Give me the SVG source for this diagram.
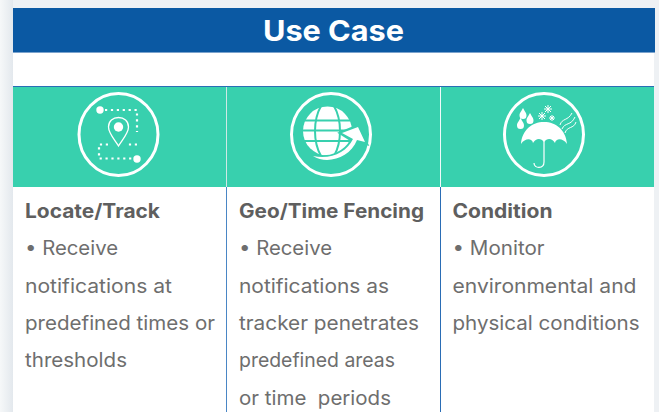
<svg xmlns="http://www.w3.org/2000/svg" width="659" height="412" viewBox="0 0 659 412">
<defs><linearGradient id="sh" x1="0" x2="1" y1="0" y2="0"><stop offset="0" stop-color="#f6f8f9"/><stop offset="1" stop-color="#e3e8ed"/></linearGradient></defs>
<style>
text{font-family:"Inter","Noto Sans",sans-serif}
.b{font-size:19.500px;font-weight:700;fill:#5f5f5f}
.t{font-size:19.500px;fill:#6e6e6e}
.w{fill:none;stroke:#fff}
.r{fill:none;stroke:#fff;stroke-width:3}
.f{fill:#fff}
.d{fill:none;stroke:#fff;stroke-width:2.200;stroke-dasharray:2.200 3.700}
.g{fill:none;stroke:#38d0ae;stroke-width:2}
</style>
<rect width="659" height="412" fill="#eef1f4"/>
<rect x="0" y="0" width="13" height="412" fill="url(#sh)"/>
<rect x="13" y="8" width="641" height="404" fill="#fff"/>
<rect x="13" y="8" width="642" height="44" fill="#0b59a3"/>
<rect x="13" y="52" width="642" height="1" fill="#7ba3cd"/>
<text x="263" y="41" font-size="29" font-weight="700" fill="#fff" textLength="141" lengthAdjust="spacingAndGlyphs">Use Case</text>
<rect x="13" y="86" width="641" height="1" fill="#2a6db5"/>
<rect x="13" y="87" width="641" height="100" fill="#38d0ae"/>
<g id="connectors">
<line x1="226.500" y1="87" x2="226.500" y2="187" stroke="#cfe8e6"/>
<line x1="440.500" y1="87" x2="440.500" y2="187" stroke="#f0fafa"/>
<line x1="226.500" y1="187" x2="226.500" y2="412" stroke="#4a86c5"/>
<line x1="440.500" y1="187" x2="440.500" y2="412" stroke="#2a6db5"/>
</g>
<g id="node-locate">
<ellipse class="r" cx="118.500" cy="134.500" rx="39.500" ry="41"/>
<circle class="f" cx="100" cy="110" r="3.700"/>
<circle class="f" cx="137" cy="159" r="3.700"/>
<path class="d" d="M105 110H137V132M137 144.500H128M108 144.500H99V158.500H132"/>
<path class="w" stroke-width="1.300" d="M118.500 146C114 139 108.500 133 108.500 127C108.500 121 113 117.500 118.500 117.500C124 117.500 128.500 121 128.500 127C128.500 133 123 139 118.500 146Z"/>
<circle class="f" cx="118.500" cy="127" r="4.700"/>
</g>
<g id="node-geo">
<ellipse class="r" cx="331" cy="134.500" rx="39.500" ry="41"/>
<circle class="f" cx="327.500" cy="131" r="24.500"/>
<g class="g">
<path d="M321 106C313 120 313 142 321 156M334 106C342 120 342 142 334 156"/>
<path d="M303 120.500H352M302 130.500H353M303 141H352"/>
</g>
<path fill="#38d0ae" stroke="#38d0ae" stroke-width="3.500" d="M312 155C330 161 346 152 352 140L341 133L358 126L366 143L357 140C350 160 326 168 312 155Z"/>
<path class="f" d="M313 156C331 160 347 152 353 139L342 133L358 127L365 142L357 140C350 158 327 165 313 156Z"/>
</g>
<g id="node-condition">
<ellipse class="r" cx="544" cy="134.500" rx="39.500" ry="41"/>
<path class="f" d="M521 144C522 130 532 122 544 122C556 122 566 130 567 144C563 138 556 138 555 143C552 138 547 138 544 142C541 138 536 138 533 143C532 138 525 138 521 144Z"/>
<path class="w" stroke-width="1.200" d="M544 140V162C544 169 534 169 534 163"/>
<path class="f" d="M523 108C525 112 526.500 113 526.500 115.500A3.500 3.500 0 0 1 519.500 115.500C519.500 113 521 112 523 108ZM530 113C532 117 533.500 118 533.500 120.500A3.500 3.500 0 0 1 526.500 120.500C526.500 118 528 117 530 113ZM520.500 118C522.500 122 524 123 524 125.500A3.500 3.500 0 0 1 517 125.500C517 123 518.500 122 520.500 118Z"/>
<g class="w" stroke-width="1">
<path d="M538 116H546M542 112V120M539 113L545 119M545 113L539 119"/>
<path d="M544 109H552M548 105V113M545 106L551 112M551 106L545 112"/>
<path d="M549 118H555M552 115V121M550 116L554 120M554 116L550 120"/>
</g>
<path class="w" stroke-width="1" d="M560 125C562 118 568 121 572 113M562 129C565 122 571 126 575 117M565 133C567 126 574 129 576 122"/>
</g>
<g id="node-col1">
<text class="b" x="25" y="218" textLength="135" lengthAdjust="spacingAndGlyphs">Locate/Track</text>
<text class="t" x="25" y="255" textLength="93" lengthAdjust="spacingAndGlyphs">• Receive</text>
<text class="t" x="25" y="293" textLength="147" lengthAdjust="spacingAndGlyphs">notifications at</text>
<text class="t" x="25" y="330" textLength="190" lengthAdjust="spacingAndGlyphs">predefined times or</text>
<text class="t" x="25" y="367" textLength="102" lengthAdjust="spacingAndGlyphs">thresholds</text>
</g>
<g id="node-col2">
<text class="b" x="239" y="218" textLength="185" lengthAdjust="spacingAndGlyphs">Geo/Time Fencing</text>
<text class="t" x="239" y="255" textLength="93" lengthAdjust="spacingAndGlyphs">• Receive</text>
<text class="t" x="239" y="293" textLength="150" lengthAdjust="spacingAndGlyphs">notifications as</text>
<text class="t" x="239" y="330" textLength="180" lengthAdjust="spacingAndGlyphs">tracker penetrates</text>
<text class="t" x="239" y="367" textLength="156" lengthAdjust="spacingAndGlyphs">predefined areas</text>
<text class="t" x="239" y="405" textLength="152" lengthAdjust="spacingAndGlyphs" xml:space="preserve">or time  periods</text>
</g>
<g id="node-col3">
<text class="b" x="452.500" y="218" textLength="100" lengthAdjust="spacingAndGlyphs">Condition</text>
<text class="t" x="452.500" y="255" textLength="92" lengthAdjust="spacingAndGlyphs">• Monitor</text>
<text class="t" x="452.500" y="293" textLength="184" lengthAdjust="spacingAndGlyphs">environmental and</text>
<text class="t" x="452.500" y="330" textLength="187" lengthAdjust="spacingAndGlyphs">physical conditions</text>
</g>
</svg>
